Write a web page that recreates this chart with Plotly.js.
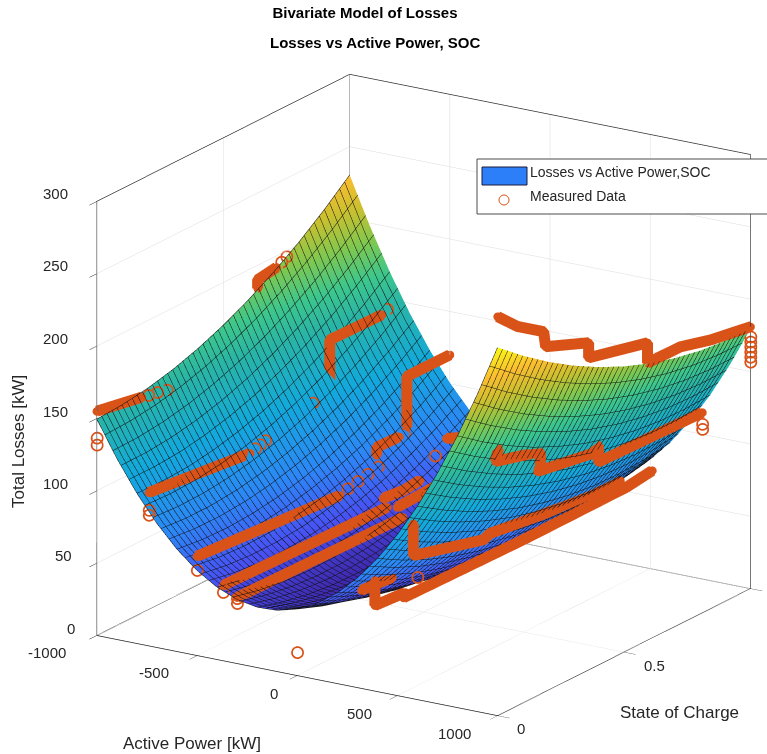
<!DOCTYPE html>
<html><head><meta charset="utf-8">
<script src="https://cdn.plot.ly/plotly-3.0.1.min.js"></script>
<style>html,body{margin:0;padding:0;background:#fff}#chart{width:767px;height:754px}</style>
</head><body><div id="chart"></div>
<script>
const activePower=[-1000,-900,-800,-700,-600,-500,-400,-300,-200,-100,0,100,200,300,400,500,600,700,800,900,1000];
const stateOfCharge=[0,0.1,0.2,0.3,0.4,0.5,0.6,0.7,0.8,0.9,1];
// one row per activePower value, one column per stateOfCharge value
const lossByPower=[
[149.5,150.6,153.2,157.4,163.2,170.5,179.4,189.8,201.8,215.4,230.5],
[125.1,125.4,127.3,130.7,135.7,142.2,150.3,160.0,171.2,184.0,198.3],
[103.8,103.4,104.4,107.1,111.3,117.0,124.4,133.2,143.7,155.7,169.2],
[85.7,84.4,84.7,86.6,90.0,95.0,101.5,109.6,119.3,130.5,143.3],
[70.7,68.6,68.1,69.2,71.9,76.1,81.8,89.1,98.0,108.5,120.5],
[58.8,55.9,54.7,55.0,56.8,60.3,65.2,71.8,79.9,89.5,100.8],
[50.0,46.4,44.3,43.8,44.9,47.6,51.8,57.5,64.8,73.7,84.2],
[44.3,39.9,37.1,35.8,36.1,38.0,41.4,46.4,52.9,61.0,70.7],
[41.7,36.6,33.0,30.9,30.5,31.5,34.2,38.4,44.1,51.5,60.3],
[42.3,36.4,32.0,29.2,27.9,28.2,30.1,33.5,38.5,45.0,53.1],
[46.0,39.3,34.1,30.5,28.5,28.0,29.1,31.7,35.9,41.7,49.0],
[52.8,45.3,39.4,35.0,32.2,30.9,31.2,33.1,36.5,41.5,48.0],
[62.7,54.5,47.7,42.6,39.0,36.9,36.5,37.5,40.2,44.4,50.1],
[75.8,66.7,59.2,53.3,48.9,46.1,44.8,45.1,47.0,50.4,55.4],
[92.0,82.1,73.8,67.1,62.0,58.4,56.3,55.8,56.9,59.6,63.8],
[111.3,100.6,91.6,84.1,78.1,73.8,70.9,69.7,70.0,71.8,75.3],
[133.7,122.3,112.4,104.1,97.4,92.3,88.7,86.6,86.1,87.2,89.9],
[159.2,147.0,136.4,127.3,119.8,113.9,109.5,106.7,105.4,105.7,107.6],
[187.8,174.9,163.5,153.6,145.4,138.6,133.5,129.9,127.8,127.4,128.4],
[219.6,205.9,193.7,183.1,174.0,166.5,160.6,156.2,153.4,152.1,152.4],
[254.5,240.0,227.0,215.6,205.8,197.5,190.8,185.6,182.0,180.0,179.5]];

// measured runs, null separates one run from the next
const runPower=[-1000,-970,null,
-1000,-1000,-1000,null,
-740,-740,null,
-750,-750,-750,null,
-500,-480,null,
-500,-500,-500,null,
-500,-500,-500,null,
-370,-340,null,
-340,-340,-340,null,
-300,-280,null,
-280,-280,-280,null,
0,0,null,
1000,1000,1000,1000,1000,1000,1000,1000,1000,1000,1000,1000,null,
510,510,510,510,null,
580,580,580,580,580,580,null,
800,800,800,800,800,800,800,800,800,800,null,
320,320,null,
350,350,350];
const runSOC=[0,0.154,null,
0.636,0.636,0.711,null,
0,0.4,null,
0.723,0.723,0.93,null,
0,0.549,null,
0.711,0.711,0.8,null,
0.83,0.83,1,null,
0,0.625,null,
0.609,0.688,0.755,null,
0,0.64,null,
0.617,0.719,0.9,null,
0.59,0.644,null,
0,0.079,0.182,0.19,0.36,0.36,0.593,0.593,0.723,0.842,1,1,null,
0.016,0.5,0.9,1,null,
0,0,0.277,0.304,0.522,0.818,null,
0.162,0.15,0.3,0.328,0.328,0.316,0.538,0.557,0.557,0.968,null,
0,0.1225,null,
0.03,0.03,0.15];
const runLoss=[155,152,null,
184,190,192,null,
106,98,null,
120,147.7,147,null,
68.6,63,null,
76,81.5,81,null,
85,120,120,null,
52,52,null,
59.6,58,59.3,null,
45.7,45.4,null,
54.4,55.1,57,null,
112,108,null,
275.8,262,249.4,238.3,226.1,215.7,205.6,191.7,191.4,185.7,180.9,180.9,null,
66.5,65,65.5,68,null,
121,99,85.6,87.7,82.3,79,null,
165,157,149.6,147.8,136.7,135.5,128.7,132.5,120.8,119,null,
67.8,66,null,
72.9,55.5,54];

// single measured samples
const dotPower=[-1000,-1000,-740,-740,-500,-370,-300,-300,0,1000,1000,1000,1000,1000,1000,800,800,
-970,-970,-970,-740,-740,-740,-730,-1000,-1000,-750,-480,-480,-480,-480,-500,600,0];
const dotSOC=[0,0,0,0,0,0,0,0,0,1,1,1,1,1,1,0.968,0.968,
0.18,0.215,0.253,0.42,0.44,0.46,0.64,0.73,0.75,0.95,0.58,0.62,0.66,0.7,0.82,0,0.545];
const dotLoss=[136.5,131.7,93.8,90.4,58.9,47.3,41.6,45,16,174,170.5,167,163.5,160,156.6,110.9,107.4,
151,150,148.3,99.5,100.5,101.5,112,194,196,149,65,66.5,68,69.5,81,84.5,104];

// frame edges that the axes do not draw
const frameX=[-1000,-1000,null,-1000,-1000,1000];
const frameY=[0,1,null,1,1,1];
const frameZ=[0,0,null,300,0,0];

// tick labels
const powerTicks=[-1000,-500,0,500,1000];
const socTicks=[0,0.5];
const lossTicks=[0,50,100,150,200,250,300];
const powerLabelDx=[-50,-43,-23,-38,-43], powerLabelDy=[17,17,18,18,18];
const socLabelDx=[23,30], socLabelDy=[13,13];
const lossLabelDx=[-26,-33,-41,-41,-41,-41,-41], lossLabelDy=[-7,-8,-7,-7,-8,-8,-8];

const parula=[[0,'#3e26a8'],[0.1,'#4852f4'],[0.22,'#2d87f7'],[0.38,'#12a9dc'],[0.54,'#2ab5a5'],[0.62,'#3dc78d'],[0.71,'#7fc850'],[0.8,'#c8c030'],[0.89,'#fbbd30'],[1,'#f9fb14']];
const orange='#d95319', ink='#262626';
const ax={showbackground:false,showgrid:true,gridcolor:'#dcdcdc',gridwidth:1,zeroline:false,showspikes:false,
  showline:true,linecolor:ink,linewidth:1.5,mirror:true,ticks:'outside',ticklen:14,tickcolor:ink,tickwidth:1,showticklabels:false,
  title:{text:''},autorange:false};

const lossBySOC=stateOfCharge.map((_,j)=>lossByPower.map(r=>r[j]));
const traces=[
 {type:'surface',name:'Losses vs Active Power,SOC',x:activePower,y:stateOfCharge,z:lossBySOC,
  colorscale:parula,cmin:28,cmax:255,showscale:false,hoverinfo:'skip',
  lighting:{ambient:1,diffuse:0,specular:0,roughness:1,fresnel:0},
  contours:{x:{show:true,start:-1000,end:1000,size:40,color:'#101010',width:2,highlight:false},
            y:{show:true,start:0,end:1,size:0.02,color:'#101010',width:2,highlight:false},
            z:{show:false,highlight:false}}},
 {type:'scatter3d',mode:'lines',x:frameX,y:frameY,z:frameZ,line:{color:ink,width:1.5},showlegend:false,hoverinfo:'skip'},
 {type:'scatter3d',mode:'lines+markers',name:'Measured Data',x:runPower,y:runSOC,z:runLoss,line:{color:orange,width:22},
  marker:{symbol:'circle',size:5,color:orange},showlegend:false,hoverinfo:'skip'},
 {type:'scatter3d',mode:'markers',name:'Measured Data',x:dotPower,y:dotSOC,z:dotLoss,
  marker:{symbol:'circle-open',size:7,color:orange,line:{color:orange,width:1}},showlegend:false,hoverinfo:'skip'}
];

const font=(s,b)=>({family:'Liberation Sans',size:s,color:b?'#000':ink});
const d=20/179, c={x:-d*0.846,y:-d*0.534,z:0}, k=1.477;
const lbl=(x,y,z,text,dx,dy)=>({x,y,z,text:String(text),showarrow:false,xanchor:'center',yanchor:'middle',xshift:dx,yshift:-dy,font:font(15)});
const layout={width:767,height:754,margin:{l:0,r:0,t:0,b:0},paper_bgcolor:'#fff',showlegend:false,
 title:{text:'<b>Bivariate Model of Losses</b>',x:365/767,xanchor:'center',y:1-13/754,yanchor:'middle',font:font(15,true)},
 scene:{domain:{x:[0,1],y:[0,0.952]},aspectmode:'manual',aspectratio:{x:1.32,y:1.32,z:1.275},
  camera:{projection:{type:'orthographic'},center:c,eye:{x:c.x+0.506*k,y:c.y-0.802*k,z:0.317*k},up:{x:0,y:0,z:1}},
  xaxis:Object.assign({},ax,{range:[-1000,1000],tickvals:powerTicks}),
  yaxis:Object.assign({},ax,{range:[0,1],tickvals:[0,0.5,1]}),
  zaxis:Object.assign({},ax,{range:[0,300],tickvals:lossTicks}),
  annotations:[].concat(
   powerTicks.map((v,i)=>lbl(v,0,0,v,powerLabelDx[i],powerLabelDy[i])),
   socTicks.map((v,i)=>lbl(1000,v,0,v,socLabelDx[i],socLabelDy[i])),
   lossTicks.map((v,i)=>lbl(-1000,0,v,v,lossLabelDx[i],lossLabelDy[i])))
 },
 shapes:[
  {type:'rect',layer:'above',xref:'paper',yref:'paper',x0:477/767,x1:768/767,y0:1-214/754,y1:1-159/754,fillcolor:'#fff',line:{color:'#4d4d4d',width:1}},
  {type:'rect',layer:'above',xref:'paper',yref:'paper',x0:482/767,x1:527/767,y0:1-185/754,y1:1-167/754,fillcolor:'#2d7ff9',line:{color:'#1a1a3a',width:1}},
  {type:'circle',layer:'above',xref:'paper',yref:'paper',x0:499/767,x1:509/767,y0:1-205/754,y1:1-195/754,fillcolor:'rgba(0,0,0,0)',line:{color:orange,width:1}}
 ],
 annotations:[
  {text:'<b>Losses vs Active Power, SOC</b>',x:375/767,y:1-42/754,font:font(15,true)},
  {text:'Losses vs Active Power,SOC',x:528/767,y:1-172/754,xanchor:'left',font:font(14)},
  {text:'Measured Data',x:528/767,y:1-196/754,xanchor:'left',font:font(14)},
  {text:'Active Power [kW]',x:192/767,y:1-743/754,font:font(17)},
  {text:'State of Charge',x:679/767,y:1-712/754,font:font(17)},
  {text:'Total Losses [kW]',x:19/767,y:1-442/754,textangle:-90,font:font(17)}
 ].map(a=>Object.assign({xref:'paper',yref:'paper',showarrow:false,xanchor:'center',yanchor:'middle'},a))
};
Plotly.newPlot('chart',traces,layout,{displayModeBar:false});
</script></body></html>
